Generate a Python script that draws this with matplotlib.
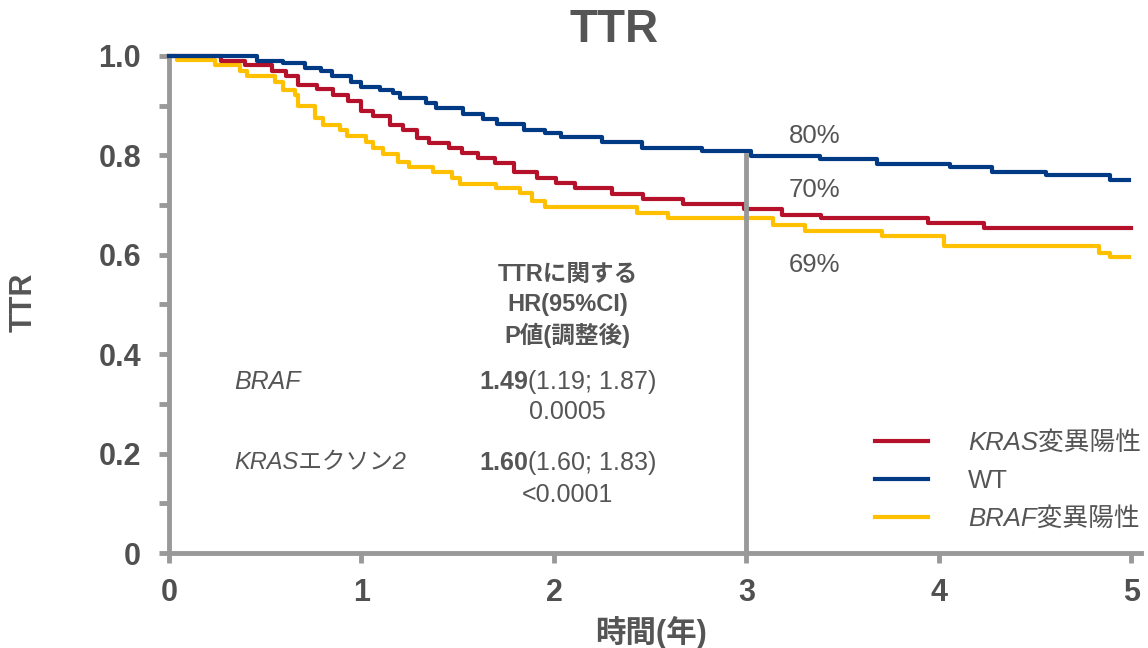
import matplotlib
matplotlib.use("Agg")
import matplotlib.pyplot as plt
from matplotlib.ticker import MultipleLocator

plt.rcParams['font.family'] = ['Liberation Sans', 'Noto Sans CJK JP']
plt.rcParams['mathtext.fontset'] = 'custom'
plt.rcParams['mathtext.rm'] = 'Liberation Sans'
plt.rcParams['mathtext.it'] = 'Liberation Sans:italic'
plt.rcParams['mathtext.bf'] = 'Liberation Sans:bold'

# Kaplan-Meier step points (years, TTR)
wt_t = [0, 0.456, 0.594, 0.707, 0.79, 0.845, 0.946, 0.998, 1.097, 1.166, 1.20, 1.334, 1.386,
        1.525, 1.63, 1.703, 1.842, 1.954, 2.037, 2.249, 2.457, 2.769, 3.023, 3.380, 3.678,
        4.056, 4.276, 4.557, 4.891, 4.99]
wt_s = [1.0, 0.990, 0.985, 0.975, 0.969, 0.959, 0.948, 0.937, 0.931, 0.925, 0.916, 0.905, 0.895,
        0.884, 0.873, 0.863, 0.851, 0.846, 0.836, 0.826, 0.814, 0.809, 0.798, 0.792, 0.782,
        0.777, 0.766, 0.760, 0.750, 0.750]

kras_t = [0, 0.27, 0.395, 0.534, 0.608, 0.672, 0.771, 0.854, 0.929, 0.998, 1.062, 1.149, 1.218,
          1.287, 1.353, 1.457, 1.521, 1.608, 1.694, 1.79, 1.911, 2.011, 2.107, 2.304, 2.465,
          2.668, 2.985, 3.184, 3.387, 3.943, 4.232, 5.0]
kras_s = [1.0, 0.990, 0.982, 0.970, 0.959, 0.942, 0.933, 0.921, 0.909, 0.890, 0.880, 0.861, 0.851,
          0.835, 0.825, 0.814, 0.804, 0.794, 0.784, 0.767, 0.754, 0.745, 0.734, 0.722, 0.713,
          0.702, 0.692, 0.680, 0.675, 0.663, 0.653, 0.653]

braf_t = [0, 0.04, 0.239, 0.369, 0.407, 0.551, 0.591, 0.655, 0.672, 0.759, 0.802, 0.889, 0.924,
          1.024, 1.062, 1.114, 1.192, 1.249, 1.371, 1.469, 1.512, 1.70, 1.824, 1.888, 1.954,
          2.431, 2.595, 3.138, 3.304, 3.704, 4.025, 4.830, 4.887, 4.99]
braf_s = [1.0, 0.992, 0.981, 0.969, 0.959, 0.948, 0.931, 0.922, 0.900, 0.876, 0.861, 0.851, 0.839,
          0.827, 0.814, 0.802, 0.787, 0.777, 0.766, 0.755, 0.743, 0.735, 0.725, 0.708, 0.697,
          0.685, 0.675, 0.659, 0.648, 0.638, 0.618, 0.604, 0.595, 0.595]

labels = ["KRAS変異陽性", "WT", "BRAF変異陽性"]
label_italic = [True, False, True]
colors = ["#B5112B", "#003A84", "#FFC000"]

landmark_year = 3
landmark_top = 0.80
pct_labels = ["80%", "70%", "69%"]
pct_y = [0.84, 0.73, 0.58]

grey = "#999999"
txt = "#555555"

fig = plt.figure(figsize=(11.48, 6.48), dpi=100)
ax = fig.add_axes([0.1472, 0.1466, 0.8467, 0.767])

l_braf, = ax.step(braf_t, braf_s, where="post", color=colors[2], lw=3, clip_on=False, zorder=2)
l_kras, = ax.step(kras_t, kras_s, where="post", color=colors[0], lw=3, clip_on=False, zorder=3)
l_wt, = ax.step(wt_t, wt_s, where="post", color=colors[1], lw=3, clip_on=False, zorder=4)

ax.plot([landmark_year, landmark_year], [0, landmark_top], color=grey, lw=3.5, zorder=5)

ax.set_xlim(0, 5.05)
ax.set_ylim(0, 1.0)
ax.set_xticks([0, 1, 2, 3, 4, 5])
ax.set_yticks([0, 0.2, 0.4, 0.6, 0.8, 1.0])
ax.set_yticklabels(["0", "0.2", "0.4", "0.6", "0.8", "1.0"])
ax.yaxis.set_minor_locator(MultipleLocator(0.1))

for s in ["top", "right"]:
    ax.spines[s].set_visible(False)
for s in ["left", "bottom"]:
    ax.spines[s].set_color(grey)
    ax.spines[s].set_linewidth(3.5)

ax.tick_params(axis="both", which="both", color=grey, width=3.5, length=7,
               labelsize=22, labelcolor="#505050")
ax.tick_params(axis="x", pad=11)
ax.tick_params(axis="y", pad=13)
for lab in ax.get_xticklabels() + ax.get_yticklabels():
    lab.set_fontweight("bold")

# landmark percentages at 3 years
for lab, y in zip(pct_labels, pct_y):
    ax.text(3.22, y, lab, fontsize=18.5, color=txt, va="center", ha="left")

# hazard ratio block
hx = 2.07
ax.text(hx, 0.561, "TTRに関する", fontsize=17, fontweight="bold", color=txt, ha="center", va="center")
ax.text(hx, 0.500, "HR(95%CI)", fontsize=17, fontweight="bold", color=txt, ha="center", va="center")
ax.text(hx, 0.437, "P値(調整後)", fontsize=17, fontweight="bold", color=txt, ha="center", va="center")

ax.text(0.34, 0.344, "BRAF", fontsize=18, style="italic", color=txt, ha="left", va="center")
ax.text(hx, 0.344, "$\\mathbf{1.49}$(1.19; 1.87)", fontsize=18, color=txt, ha="center", va="center")
ax.text(hx, 0.284, "0.0005", fontsize=18, color=txt, ha="center", va="center")

ax.text(0.34, 0.181, "KRASエクソン2", fontsize=17, style="italic", color=txt, ha="left", va="center")
ax.text(hx, 0.181, "$\\mathbf{1.60}$(1.60; 1.83)", fontsize=18, color=txt, ha="center", va="center")
ax.text(hx, 0.117, "<0.0001", fontsize=18, color=txt, ha="center", va="center")

leg = ax.legend([l_kras, l_wt, l_braf], labels, loc="upper left",
                bbox_to_anchor=(875 / 1148, 1 - 431 / 648), bbox_transform=fig.transFigure,
                frameon=False, fontsize=18.5, labelcolor=txt, handlelength=2.05,
                handletextpad=1.57, labelspacing=0.55, borderpad=0, borderaxespad=0)
for t, it in zip(leg.get_texts(), label_italic):
    if it:
        t.set_style("italic")

fig.text(614 / 1148, 1 - 30 / 648, "TTR", fontsize=33, fontweight="bold", color=txt,
         ha="center", va="center")
fig.text(24 / 1148, 1 - 302 / 648, "TTR", fontsize=22, fontweight="bold", color=txt,
         ha="center", va="center", rotation=90)
fig.text(651 / 1148, 1 - 632 / 648, "時間(年)", fontsize=22, fontweight="bold", color=txt,
         ha="center", va="center")

fig.savefig("out.png", dpi=100)
